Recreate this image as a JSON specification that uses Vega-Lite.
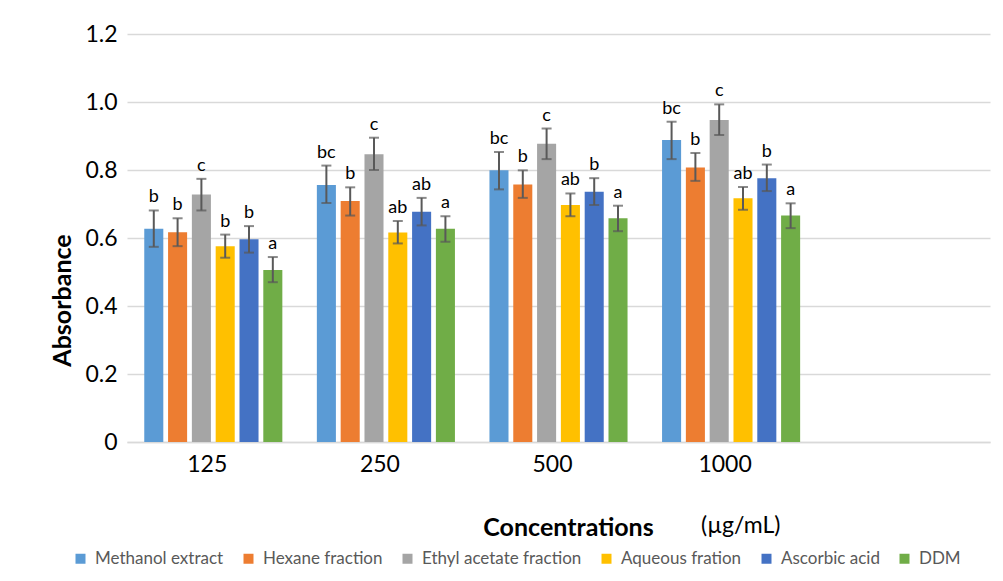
{
  "$schema": "https://vega.github.io/schema/vega-lite/v6.json",
  "width": 863,
  "height": 408,
  "autosize": {"type": "none"},
  "padding": {"left": 127, "top": 34, "right": 13, "bottom": 139},
  "background": "white",
  "config": {
    "font": "Lato",
    "view": {"stroke": null},
    "axis": {"labelFont": "Lato", "titleFont": "Lato"}
  },
  "title": {
    "text": "(µg/mL)",
    "orient": "bottom",
    "anchor": "start",
    "frame": "group",
    "fontSize": 23,
    "fontWeight": "normal",
    "color": "#000000",
    "font": "Lato",
    "dx": 574,
    "dy": -56
  },
  "data": {
    "values": [
      {"conc": "125", "series": "Methanol extract", "value": 0.627, "lo": 0.574, "hi": 0.681, "letter": "b"},
      {"conc": "125", "series": "Hexane fraction", "value": 0.617, "lo": 0.576, "hi": 0.658, "letter": "b"},
      {"conc": "125", "series": "Ethyl acetate fraction", "value": 0.728, "lo": 0.681, "hi": 0.774, "letter": "c"},
      {"conc": "125", "series": "Aqueous fration", "value": 0.576, "lo": 0.542, "hi": 0.61, "letter": "b"},
      {"conc": "125", "series": "Ascorbic acid", "value": 0.596, "lo": 0.557, "hi": 0.635, "letter": "b"},
      {"conc": "125", "series": "DDM", "value": 0.506, "lo": 0.47, "hi": 0.544, "letter": "a"},
      {"conc": "250", "series": "Methanol extract", "value": 0.756, "lo": 0.703, "hi": 0.813, "letter": "bc"},
      {"conc": "250", "series": "Hexane fraction", "value": 0.709, "lo": 0.666, "hi": 0.749, "letter": "b"},
      {"conc": "250", "series": "Ethyl acetate fraction", "value": 0.846, "lo": 0.8, "hi": 0.895, "letter": "c"},
      {"conc": "250", "series": "Aqueous fration", "value": 0.616, "lo": 0.584, "hi": 0.65, "letter": "ab"},
      {"conc": "250", "series": "Ascorbic acid", "value": 0.677, "lo": 0.637, "hi": 0.718, "letter": "ab"},
      {"conc": "250", "series": "DDM", "value": 0.627, "lo": 0.589, "hi": 0.664, "letter": "a"},
      {"conc": "500", "series": "Methanol extract", "value": 0.799, "lo": 0.743, "hi": 0.853, "letter": "bc"},
      {"conc": "500", "series": "Hexane fraction", "value": 0.757, "lo": 0.718, "hi": 0.799, "letter": "b"},
      {"conc": "500", "series": "Ethyl acetate fraction", "value": 0.877, "lo": 0.832, "hi": 0.922, "letter": "c"},
      {"conc": "500", "series": "Aqueous fration", "value": 0.697, "lo": 0.664, "hi": 0.731, "letter": "ab"},
      {"conc": "500", "series": "Ascorbic acid", "value": 0.736, "lo": 0.697, "hi": 0.776, "letter": "b"},
      {"conc": "500", "series": "DDM", "value": 0.658, "lo": 0.62, "hi": 0.695, "letter": "a"},
      {"conc": "1000", "series": "Methanol extract", "value": 0.888, "lo": 0.832, "hi": 0.942, "letter": "bc"},
      {"conc": "1000", "series": "Hexane fraction", "value": 0.807, "lo": 0.768, "hi": 0.85, "letter": "b"},
      {"conc": "1000", "series": "Ethyl acetate fraction", "value": 0.947, "lo": 0.903, "hi": 0.993, "letter": "c"},
      {"conc": "1000", "series": "Aqueous fration", "value": 0.717, "lo": 0.683, "hi": 0.75, "letter": "ab"},
      {"conc": "1000", "series": "Ascorbic acid", "value": 0.776, "lo": 0.738, "hi": 0.816, "letter": "b"},
      {"conc": "1000", "series": "DDM", "value": 0.666, "lo": 0.629, "hi": 0.702, "letter": "a"}
    ]
  },
  "encoding": {
    "x": {
      "field": "conc",
      "type": "nominal",
      "scale": {"domain": ["125", "250", "500", "1000", " "], "paddingInner": 0.2, "paddingOuter": 0.1},
      "axis": {
        "title": "Concentrations",
        "titleFontSize": 25,
        "titleFontWeight": "bold",
        "titleColor": "#000000",
        "titleX": 441,
        "titleY": 85,
        "titleAlign": "center",
        "titleBaseline": "middle",
        "labelAngle": 0,
        "labelFontSize": 23,
        "labelColor": "#000000",
        "labelPadding": 11,
        "labelOffset": -6,
        "ticks": false,
        "domainColor": "#d9d9d9",
        "domainWidth": 1.5,
        "grid": false
      }
    },
    "xOffset": {
      "field": "series",
      "type": "nominal",
      "scale": {
        "domain": ["Methanol extract", "Hexane fraction", "Ethyl acetate fraction", "Aqueous fration", "Ascorbic acid", "DDM"],
        "paddingInner": 0.2,
        "paddingOuter": 0
      }
    }
  },
  "layer": [
    {
      "mark": {"type": "bar"},
      "encoding": {
        "y": {
          "field": "value",
          "type": "quantitative",
          "scale": {"domain": [0, 1.2]},
          "axis": {
            "title": "Absorbance",
            "titleFontSize": 25,
            "titleFontWeight": "bold",
            "titleColor": "#000000",
            "titleX": -65,
            "titleY": 266,
            "titleAngle": -90,
            "titleAlign": "center",
            "titleBaseline": "middle",
            "values": [0, 0.2, 0.4, 0.6, 0.8, 1.0, 1.2],
            "labelExpr": "datum.value == 0 ? '0' : format(datum.value, '.1f')",
            "labelFontSize": 23,
            "labelColor": "#000000",
            "labelPadding": 10,
            "ticks": false,
            "domain": false,
            "gridColor": "#d9d9d9",
            "gridWidth": 1.5
          }
        },
        "color": {
          "field": "series",
          "type": "nominal",
          "scale": {
            "domain": ["Methanol extract", "Hexane fraction", "Ethyl acetate fraction", "Aqueous fration", "Ascorbic acid", "DDM"],
            "range": ["#5B9BD5", "#ED7D31", "#A5A5A5", "#FFC000", "#4472C4", "#70AD47"]
          },
          "legend": {
            "title": null,
            "orient": "none",
            "direction": "horizontal",
            "legendX": -55,
            "legendY": 516,
            "symbolType": "square",
            "symbolSize": 100,
            "symbolStrokeWidth": 0,
            "labelFontSize": 17,
            "labelLimit": 400,
            "labelColor": "#595959",
            "labelFont": "Lato",
            "columnPadding": 16,
            "labelOffset": 6
          }
        }
      }
    },
    {
      "mark": {"type": "rule", "color": "#595959", "strokeWidth": 2},
      "encoding": {
        "y": {"field": "lo", "type": "quantitative"},
        "y2": {"field": "hi"}
      }
    },
    {
      "mark": {"type": "tick", "color": "#595959", "thickness": 2, "size": 10},
      "encoding": {"y": {"field": "lo", "type": "quantitative"}}
    },
    {
      "mark": {"type": "tick", "color": "#595959", "thickness": 2, "size": 10},
      "encoding": {"y": {"field": "hi", "type": "quantitative"}}
    },
    {
      "mark": {"type": "text", "baseline": "bottom", "dy": -4, "fontSize": 18, "color": "#000000", "font": "Lato"},
      "encoding": {
        "y": {"field": "hi", "type": "quantitative"},
        "text": {"field": "letter"}
      }
    }
  ]
}
